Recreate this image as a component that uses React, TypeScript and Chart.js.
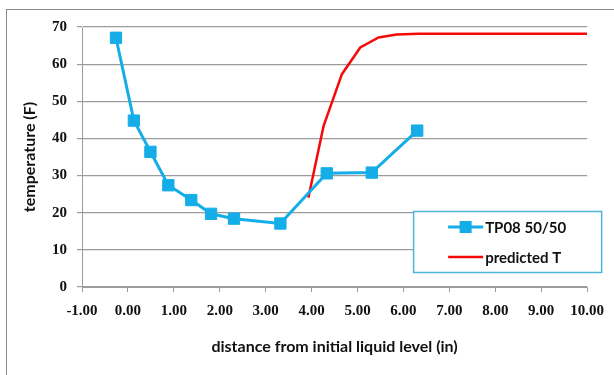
import React, { useEffect, useRef } from 'react';
import { Chart, registerables } from 'chart.js';
Chart.register(...registerables);

const tpX = [-0.26, 0.13, 0.49, 0.88, 1.38, 1.81, 2.31, 3.32, 4.33, 5.31, 6.3];
const tpY = [67.1, 44.8, 36.4, 27.4, 23.4, 19.7, 18.4, 17.1, 30.6, 30.8, 42.1];
const predX = [3.93, 4.26, 4.66, 5.06, 5.46, 5.85, 6.33, 7, 8, 9, 10];
const predY = [24.0, 43.3, 57.3, 64.5, 67.2, 68.0, 68.2, 68.2, 68.2, 68.2, 68.2];
const seriesNames = ['TP08 50/50', 'predicted T'];
const xTitle = 'distance from initial liquid level (in)';
const yTitle = 'temperature (F)';

const BLUE = '#14ade8';
const RED = '#f50a0a';
const GRID = '#9c9c9c';

const framePlugin = {
  id: 'frame',
  beforeDraw(chart: any) {
    const ctx = chart.ctx;
    ctx.save();
    ctx.fillStyle = '#fff';
    ctx.fillRect(0, 0, chart.width, chart.height);
    ctx.strokeStyle = '#8a8a8a';
    ctx.lineWidth = 1;
    ctx.strokeRect(6.5, 9.5, chart.width + 10, chart.height + 10);
    ctx.restore();
  },
};

const legendPlugin = {
  id: 'boxLegend',
  afterDraw(chart: any) {
    const ctx = chart.ctx;
    const a = chart.chartArea;
    const left = a.right - 174;
    const top = a.top + 184;
    const w = 188;
    const h = 61;
    ctx.save();
    ctx.fillStyle = '#fff';
    ctx.fillRect(left, top, w, h);
    ctx.strokeStyle = '#4bb6d6';
    ctx.lineWidth = 1.5;
    ctx.strokeRect(left + 0.5, top + 0.5, w, h);
    ctx.font = 'bold 15px Lato, "Open Sans", sans-serif';
    ctx.textBaseline = 'middle';
    ctx.fillStyle = '#111';
    chart.data.datasets.forEach((ds: any, i: number) => {
      const y = top + 16 + i * 30;
      const x0 = left + 35;
      const x1 = left + 70;
      ctx.strokeStyle = ds.borderColor;
      ctx.lineWidth = ds.borderWidth;
      ctx.beginPath();
      ctx.moveTo(x0, y);
      ctx.lineTo(x1, y);
      ctx.stroke();
      if (ds.pointRadius > 0) {
        ctx.fillStyle = ds.pointBackgroundColor;
        ctx.fillRect((x0 + x1) / 2 - 6, y - 6, 12, 12);
      }
      ctx.fillStyle = '#111';
      ctx.fillText(ds.label, x1 + 2, y + 1);
    });
    ctx.restore();
  },
};

export default function App() {
  const ref = useRef<HTMLCanvasElement | null>(null);
  useEffect(() => {
    if (!ref.current) return;
    const tickFont = { family: '"Liberation Serif", serif', size: 15, weight: 'bold' as const };
    const titleFont = { family: 'Lato, "Open Sans", sans-serif', size: 16, weight: 'bold' as const };
    const chart = new Chart(ref.current, {
      type: 'line',
      data: {
        datasets: [
          {
            label: seriesNames[0],
            data: tpX.map((x, i) => ({ x, y: tpY[i] })),
            borderColor: BLUE,
            backgroundColor: BLUE,
            pointBackgroundColor: BLUE,
            pointBorderColor: BLUE,
            borderWidth: 3,
            pointStyle: 'rect',
            pointRadius: 8,
            pointBorderWidth: 1,
            tension: 0,
          },
          {
            label: seriesNames[1],
            data: predX.map((x, i) => ({ x, y: predY[i] })),
            borderColor: RED,
            backgroundColor: RED,
            pointBackgroundColor: RED,
            borderWidth: 2.5,
            pointRadius: 0,
            tension: 0,
          },
        ],
      },
      options: {
        responsive: false,
        animation: false,
        layout: { padding: { left: 20, right: 25, top: 27, bottom: 19 } },
        plugins: { legend: { display: false }, tooltip: { enabled: false } },
        scales: {
          x: {
            type: 'linear',
            min: -1,
            max: 10,
            afterFit: (s: any) => { s.height = 69; },
            ticks: {
              stepSize: 1,
              callback: (v: any) => Number(v).toFixed(2),
              font: tickFont,
              color: '#111',
              padding: 10,
              maxRotation: 0,
              autoSkip: false,
            },
            grid: { drawOnChartArea: false, drawTicks: true, tickLength: 5, color: GRID },
            border: { display: true, color: GRID },
            title: { display: true, text: xTitle, font: titleFont, color: '#111', padding: 0 },
          },
          y: {
            min: 0,
            max: 70,
            afterFit: (s: any) => { s.width = 62; },
            ticks: { stepSize: 10, font: tickFont, color: '#111', padding: 10 },
            grid: { color: GRID, tickLength: 5, lineWidth: 1.2 },
            border: { display: true, color: GRID },
            title: { display: true, text: yTitle, font: titleFont, color: '#111', padding: 0 },
          },
        },
      },
      plugins: [framePlugin, legendPlugin],
    });
    return () => chart.destroy();
  }, []);
  return (
    <div style={{ position: 'absolute', left: 0, top: 0, width: 614, height: 375 }}>
      <canvas ref={ref} width={614} height={375} style={{ width: 614, height: 375 }} />
    </div>
  );
}
